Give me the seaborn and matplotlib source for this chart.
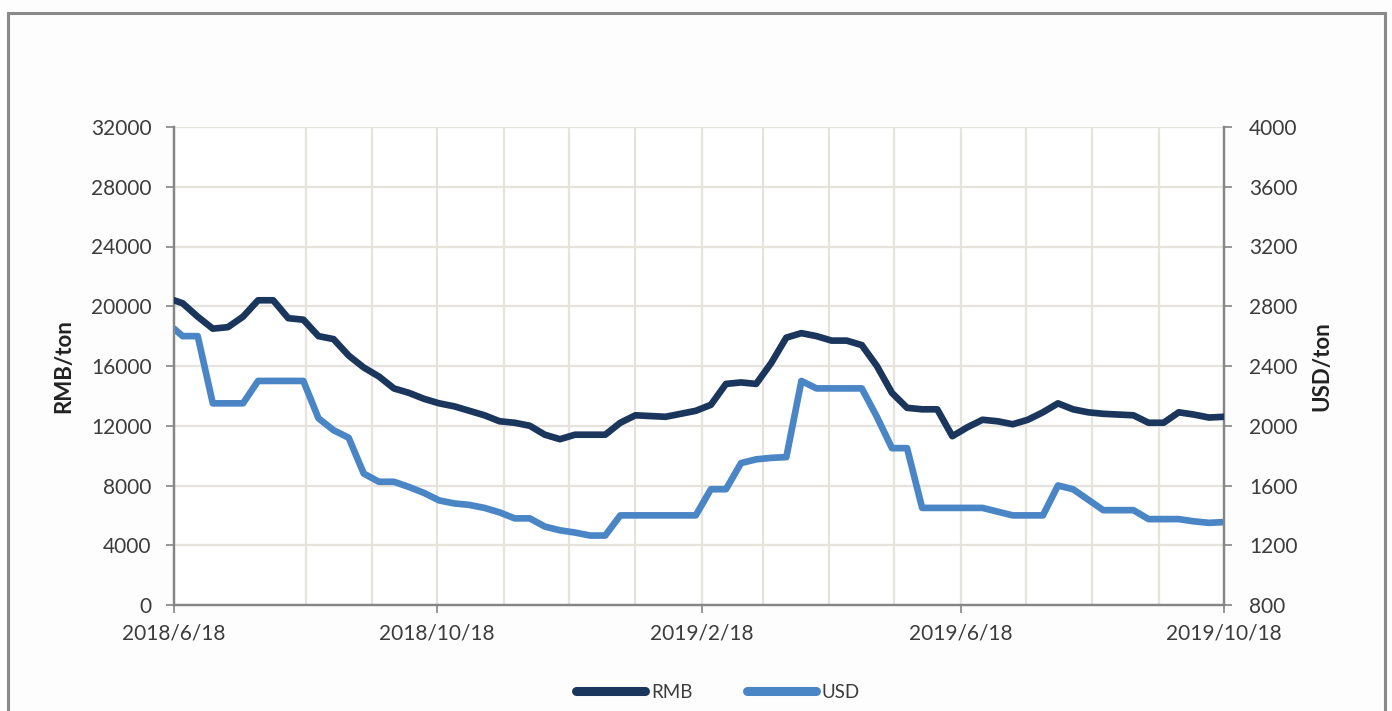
import pandas as pd
import matplotlib
matplotlib.use("Agg")
import matplotlib.pyplot as plt
import matplotlib.dates as mdates
from matplotlib.lines import Line2D
from matplotlib.patches import Rectangle
import seaborn as sns

sns.set_theme(style="white")
plt.rcParams["font.family"] = ["Lato", "DejaVu Sans"]

# Data: first point 2018/6/18, then weekly (Fridays) up to 2019/10/18
dates = [pd.Timestamp("2018-06-18")] + list(pd.date_range("2018-06-22", "2019-10-18", freq="7D"))

rmb = [20400, 20200, 19300, 18500, 18600, 19300, 20400, 20400, 19200, 19100,
       18000, 17800, 16700, 15900, 15300, 14500, 14200, 13800, 13500, 13300,
       13000, 12700, 12300, 12200, 12000, 11400, 11100, 11400, 11400, 11400,
       12200, 12700, 12650, 12600, 12800, 13000, 13400, 14800, 14900, 14800,
       16200, 17900, 18200, 18000, 17700, 17700, 17400, 16000, 14200, 13200,
       13100, 13100, 11300, 11900, 12400, 12300, 12100, 12400, 12900, 13500,
       13100, 12900, 12800, 12750, 12700, 12200, 12200, 12900, 12750, 12550,
       12600]

usd = [2650, 2600, 2600, 2150, 2150, 2150, 2300, 2300, 2300, 2300,
       2050, 1970, 1920, 1680, 1625, 1625, 1590, 1550, 1500, 1480,
       1470, 1450, 1420, 1380, 1380, 1325, 1300, 1285, 1265, 1265,
       1400, 1400, 1400, 1400, 1400, 1400, 1575, 1575, 1750, 1775,
       1785, 1790, 2300, 2250, 2250, 2250, 2250, 2060, 1850, 1850,
       1450, 1450, 1450, 1450, 1450, 1425, 1400, 1400, 1400, 1600,
       1575, 1505, 1435, 1435, 1435, 1375, 1375, 1375, 1360, 1350,
       1355]

df = pd.DataFrame({"date": dates, "RMB": rmb, "USD": usd})

RMB_COLOR = "#1b365d"
USD_COLOR = "#4a86c6"
GRID_COLOR = "#e6e2dc"
AXIS_COLOR = "#858585"
TEXT_COLOR = "#3c3c3c"
TICK_SIZE = 15

fig = plt.figure(figsize=(13.92, 7.11), dpi=100, facecolor="#fdfdfd")
ax = fig.add_axes([174 / 1392, 1 - 605 / 711, 1050 / 1392, 478 / 711])
ax2 = ax.twinx()

sns.lineplot(data=df, x="date", y="RMB", ax=ax, color=RMB_COLOR, linewidth=4.8, zorder=3)
sns.lineplot(data=df, x="date", y="USD", ax=ax2, color=USD_COLOR, linewidth=4.8, zorder=3)
ax.set_zorder(ax2.get_zorder() + 1)
ax.patch.set_visible(False)
ax2.patch.set_facecolor("white")
ax2.patch.set_visible(True)

# axes ranges
ax.set_xlim(pd.Timestamp("2018-06-18"), pd.Timestamp("2019-10-18"))
ax.set_ylim(0, 32000)
ax.set_yticks(range(0, 32001, 4000))
ax2.set_ylim(800, 4000)
ax2.set_yticks(range(800, 4001, 400))

# monthly vertical grid, labels every four months
ax.xaxis.set_major_locator(mdates.MonthLocator(bymonth=[2, 6, 10], bymonthday=18))
ax.xaxis.set_minor_locator(mdates.MonthLocator(bymonthday=18))
ax.xaxis.set_major_formatter(plt.FuncFormatter(
    lambda v, p: "{0.year}/{0.month}/{0.day}".format(mdates.num2date(v))))

ax2.grid(False)
for y in range(4000, 32001, 4000):
    ax2.axhline(800 + y / 10, color=GRID_COLOR, linewidth=1.6, zorder=1)
for d in pd.date_range("2018-07-18", "2019-09-18", freq="MS") + pd.Timedelta(days=17):
    ax2.axvline(d, color=GRID_COLOR, linewidth=1.6, zorder=1)

ax.set_xlabel("")
ax.set_ylabel("RMB/ton", fontsize=16, fontweight="bold", color="#222222", labelpad=12)
ax2.set_ylabel("USD/ton", fontsize=16, fontweight="bold", color="#222222", labelpad=10)

for a in (ax, ax2):
    a.spines["top"].set_visible(False)
    for side in ("left", "right", "bottom"):
        a.spines[side].set_color(AXIS_COLOR)
        a.spines[side].set_linewidth(1.6)
ax.tick_params(axis="y", which="major", direction="out", length=6, width=1.2,
               color=AXIS_COLOR, labelsize=TICK_SIZE, labelcolor=TEXT_COLOR, pad=10, left=True)
ax2.tick_params(axis="y", which="major", direction="out", length=6, width=1.2,
                color=AXIS_COLOR, labelsize=TICK_SIZE, labelcolor=TEXT_COLOR, pad=12, right=True)
ax.tick_params(axis="x", which="major", direction="out", length=6, width=1.2,
               color=AXIS_COLOR, labelsize=TICK_SIZE, labelcolor=TEXT_COLOR, pad=7, bottom=True)
ax.tick_params(axis="x", which="minor", length=0)

# legend at bottom
handles = [Line2D([0], [0], color=RMB_COLOR, linewidth=6.5, solid_capstyle="round"),
           Line2D([0], [0], color=USD_COLOR, linewidth=6.5, solid_capstyle="round")]
fig.legend(handles, ["RMB", "USD"], loc="center", bbox_to_anchor=(718 / 1392, 1 - 692 / 711),
           ncol=2, frameon=False, fontsize=13.5, handlelength=3.7, handletextpad=0.3,
           columnspacing=2.9, labelcolor=TEXT_COLOR)

# outer frame
fig.patches.append(Rectangle((8 / 1392, -0.05), 1377 / 1392, 1.05 - 13 / 711,
                             transform=fig.transFigure, fill=False,
                             edgecolor="#8a8a8a", linewidth=2.2, zorder=0))

fig.savefig("out.png", dpi=100, facecolor=fig.get_facecolor())
